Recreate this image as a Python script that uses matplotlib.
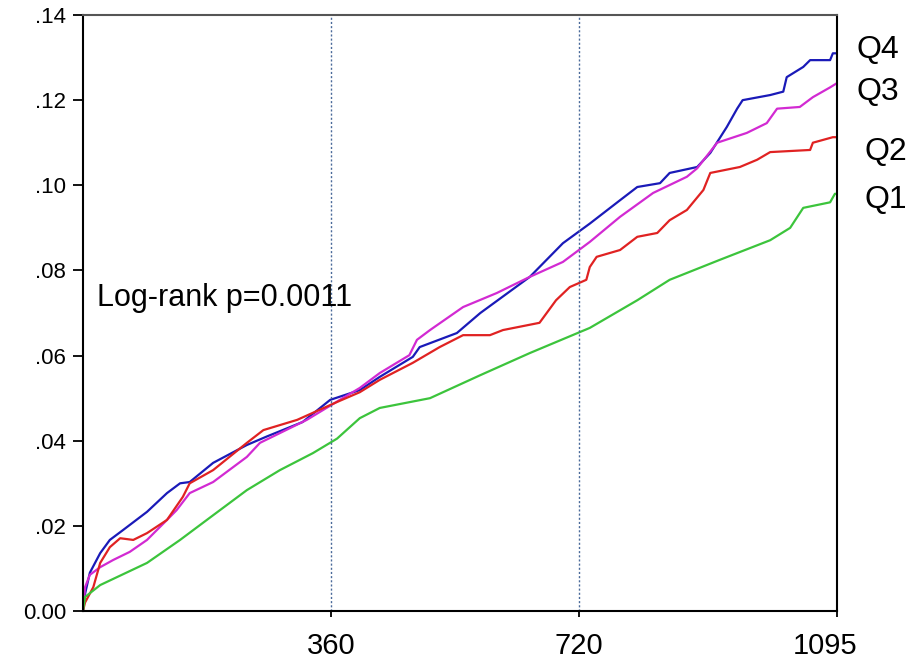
import numpy as np
import matplotlib
matplotlib.use('Agg')
import matplotlib.pyplot as plt
import matplotlib.transforms as mtransforms

plt.rcParams['font.family'] = ['Liberation Sans', 'DejaVu Sans']

# cumulative incidence (days, proportion)
q4_days = [0, 3, 10, 25, 39, 58, 93, 122, 141, 155, 189, 238, 267, 319, 359, 402, 431, 479, 489, 543,
           577, 649, 697, 736, 780, 805, 838, 852, 892, 911, 935, 950, 958, 998, 1017, 1022, 1046, 1056,
           1085, 1089, 1095]
q4_vals = [0.0, 0.004, 0.009, 0.0136, 0.0167, 0.019, 0.0233, 0.0277, 0.030, 0.0303, 0.0348, 0.039, 0.041,
           0.0444, 0.0496, 0.0519, 0.055, 0.0597, 0.062, 0.0653, 0.070, 0.0785, 0.0864, 0.091, 0.0965,
           0.0996, 0.1005, 0.1029, 0.1043, 0.1076, 0.1137, 0.118, 0.120, 0.1212, 0.122, 0.1254, 0.1278,
           0.1294, 0.1294, 0.131, 0.131]

q3_days = [0, 3, 10, 25, 44, 68, 93, 122, 136, 155, 189, 238, 257, 286, 325, 373, 402, 431, 474, 485,
           504, 552, 601, 649, 697, 736, 780, 828, 877, 892, 921, 964, 993, 1008, 1041, 1060, 1085, 1095]
q3_vals = [0.0, 0.0056, 0.0085, 0.0103, 0.012, 0.0139, 0.0167, 0.0214, 0.0237, 0.0277, 0.0303, 0.0362,
           0.0395, 0.0418, 0.0449, 0.0496, 0.0524, 0.0559, 0.0601, 0.0637, 0.066, 0.0714, 0.0747, 0.0785,
           0.082, 0.0867, 0.0926, 0.0982, 0.102, 0.104, 0.110, 0.1123, 0.1146, 0.118, 0.1184, 0.1207,
           0.123, 0.124]

q2_days = [0, 3, 15, 25, 39, 54, 73, 93, 122, 145, 155, 189, 238, 262, 311, 369, 402, 431, 479, 518,
           552, 591, 610, 663, 687, 707, 731, 736, 746, 780, 805, 834, 852, 877, 901, 911, 954, 979,
           998, 1056, 1060, 1089, 1095]
q2_vals = [0.0, 0.002, 0.0056, 0.0113, 0.015, 0.0171, 0.0167, 0.0183, 0.0214, 0.0268, 0.030, 0.0331,
           0.0395, 0.0425, 0.0449, 0.0491, 0.0514, 0.0543, 0.0583, 0.062, 0.0648, 0.0648, 0.066, 0.0677,
           0.073, 0.0761, 0.0778, 0.0808, 0.0832, 0.0848, 0.0879, 0.0888, 0.0918, 0.0942, 0.0989, 0.1029,
           0.1043, 0.106, 0.1078, 0.1083, 0.110, 0.1113, 0.1113]

q1_days = [0, 3, 25, 93, 141, 189, 238, 286, 334, 369, 402, 431, 504, 577, 649, 736, 805, 852, 925,
           998, 1027, 1046, 1085, 1092, 1095]
q1_vals = [0.0, 0.0033, 0.0061, 0.0113, 0.0167, 0.0225, 0.0284, 0.0331, 0.0371, 0.0405, 0.0453, 0.0477,
           0.050, 0.0554, 0.0606, 0.0665, 0.073, 0.0778, 0.0825, 0.0871, 0.090, 0.0947, 0.096, 0.098, 0.098]

series = [('Q4', q4_days, q4_vals, '#1a1ab8'),
          ('Q3', q3_days, q3_vals, '#d22ad2'),
          ('Q2', q2_days, q2_vals, '#e02222'),
          ('Q1', q1_days, q1_vals, '#3cc43c')]

# label spots for the curve names, right of the frame
label_x = [1124, 1124, 1135, 1135]
label_y = [0.1318, 0.1219, 0.1078, 0.0965]

x_ticks = [360, 720, 1095]
y_ticks = [0.0, 0.02, 0.04, 0.06, 0.08, 0.10, 0.12, 0.14]
y_labels = ['0.00', '.02', '.04', '.06', '.08', '.10', '.12', '.14']

fig = plt.figure(figsize=(9.23, 6.61), dpi=100)
ax = fig.add_axes([0.0899, 0.0756, 0.8169, 0.9017])

for name, d, v, c in series:
    ax.plot(d, v, color=c, lw=1.6)

for xv in x_ticks[:2]:
    ax.axvline(xv, color='#4a6a9a', lw=1.0, ls=(0, (1.5, 1.5)))

for (name, _, _, _), lx, ly in zip(series, label_x, label_y):
    ax.text(lx, ly, name, fontsize=23, va='center', ha='left', clip_on=False)

ax.text(20, 0.0735, 'Log-rank p=0.0011', fontsize=22, va='center', ha='left')

ax.set_xlim(0, 1095)
ax.set_ylim(0, 0.14)
ax.set_xticks(x_ticks)
ax.set_xticklabels([str(t) for t in x_ticks], fontsize=21)
ax.set_yticks(y_ticks)
ax.set_yticklabels(y_labels, fontsize=16)
ax.tick_params(axis='x', direction='out', length=4, width=1.3, pad=11)
ax.tick_params(axis='y', direction='out', length=7, width=1.3, pad=5)
for s in ax.spines.values():
    s.set_linewidth(1.5)
ax.spines['top'].set_color('#555555')

# last x label sits a bit left of its tick in the original
last = ax.get_xticklabels()[-1]
last.set_transform(last.get_transform() + mtransforms.ScaledTranslation(-12 / 100, 0, fig.dpi_scale_trans))

fig.savefig('out.png', dpi=100)
